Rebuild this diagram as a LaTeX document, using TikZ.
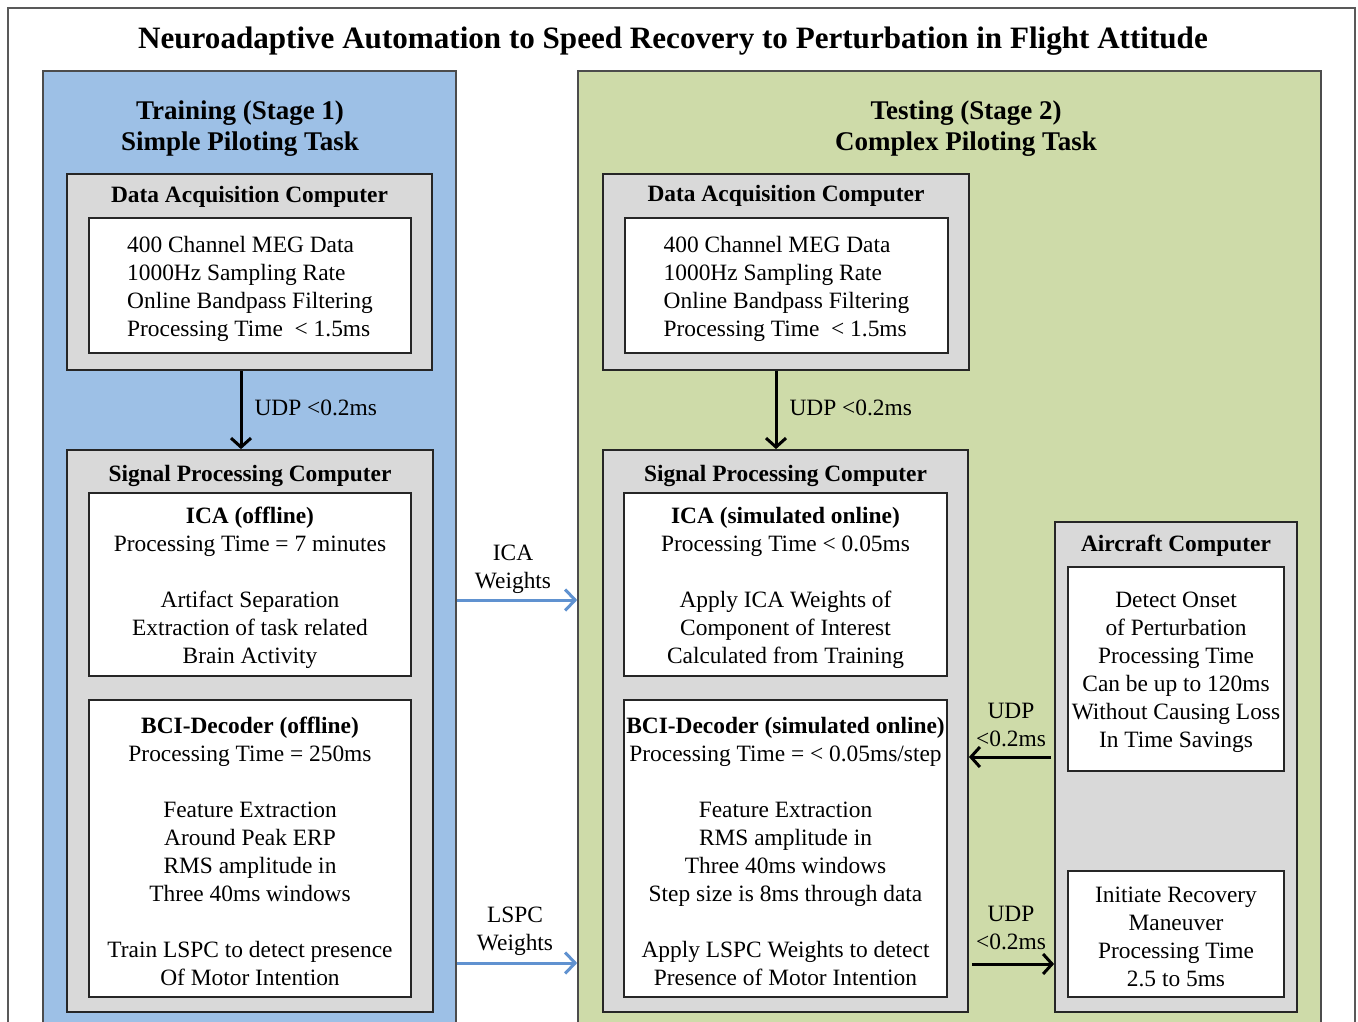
\documentclass[tikz,border=0pt]{standalone}
\usepackage{fontspec}
\setmainfont{Liberation Serif}
\definecolor{trainblue}{RGB}{157,192,230}
\definecolor{testgreen}{RGB}{206,219,169}
\definecolor{boxgray}{RGB}{217,217,217}
\definecolor{wtblue}{RGB}{96,146,208}
\usetikzlibrary{arrows.meta, positioning, calc, fit}

\begin{document}
\begin{tikzpicture}[x=1pt, y=-1pt,
  panel/.style={draw=black!70, line width=1.6pt, inner sep=0pt},
  comp/.style={draw=black!85, fill=boxgray, line width=1.8pt, inner sep=0pt},
  inbox/.style={draw=black!85, fill=white, line width=1.8pt, inner sep=0pt},
  body/.style={font=\fontsize{23.4}{28}\selectfont, align=center, inner sep=0pt, yshift=-3pt},
  hdr/.style={font=\fontsize{23.4}{28}\selectfont\bfseries, inner sep=0pt, yshift=-3pt},
  stage/.style={font=\fontsize{27}{31}\selectfont\bfseries, align=center, inner sep=0pt, yshift=-3pt},
  udp/.style={line width=3pt, -{Straight Barb[length=9pt, width=20pt]}},
  wts/.style={wtblue, line width=3pt, -{Straight Barb[length=10pt, width=21pt]}}
]
  \useasboundingbox (0,0) rectangle (1358,1022);
  \clip (0,0) rectangle (1358,1022);
  \fill[white] (0,0) rectangle (1358,1022);
  \draw[black!65, line width=1.5pt] (8,8) rectangle (1355,1040);

  \node[font=\fontsize{31.1}{34}\selectfont\bfseries, inner sep=0pt] (title) at (673,41)
    {Neuroadaptive Automation to Speed Recovery to Perturbation in Flight Attitude};

  \node[panel, fill=trainblue, fit={(43,71) (456,1040)}] (training) {};
  \node[panel, fill=testgreen, fit={(578,71) (1321,1040)}] (testing) {};
  \node[stage] (trainT) at (240,125.5) {Training (Stage 1)\\Simple Piloting Task};
  \node[stage] (testT) at (966,125.5) {Testing (Stage 2)\\Complex Piloting Task};

  % stage 1
  \node[comp, fit={(67,174) (432,370)}] (dacL) {};
  \node[hdr] (dacLh) at ([yshift=-21pt]dacL.north) {Data Acquisition Computer};
  \node[inbox, fit={(89,218) (411,353)}] (megL) {};
  \node[body, align=left] (megLt) at (megL)
    {400 Channel MEG Data\\1000Hz Sampling Rate\\Online Bandpass Filtering\\Processing Time\ \ < 1.5ms};

  \node[comp, fit={(67,450) (433,1012)}] (spcL) {};
  \node[hdr] (spcLh) at ([yshift=-24pt]spcL.north) {Signal Processing Computer};
  \node[inbox, fit={(89,493) (411,676)}] (icaL) {};
  \node[body] (icaLt) at (icaL)
    {\textbf{ICA (offline)}\\Processing Time = 7 minutes\\[28pt]Artifact Separation\\Extraction of task related\\Brain Activity};
  \node[inbox, fit={(89,700) (411,997)}] (bciL) {};
  \node[body] (bciLt) at (bciL)
    {\textbf{BCI-Decoder (offline)}\\Processing Time = 250ms\\[28pt]Feature Extraction\\Around Peak ERP\\RMS amplitude in\\Three 40ms windows\\[28pt]Train LSPC to detect presence\\Of Motor Intention};

  \draw[udp] ([xshift=-8.5pt]dacL.south) -- ([xshift=-8.5pt]dacL.south |- spcL.north)
    node[midway, right=12pt, body, yshift=5.5pt] {UDP <0.2ms};

  % stage 2
  \node[comp, fit={(603,174) (969,370)}] (dacR) {};
  \node[hdr] (dacRh) at ([yshift=-20pt]dacR.north) {Data Acquisition Computer};
  \node[inbox, fit={(625,218) (948,353)}] (megR) {};
  \node[body, align=left] (megRt) at (megR)
    {400 Channel MEG Data\\1000Hz Sampling Rate\\Online Bandpass Filtering\\Processing Time\ \ < 1.5ms};

  \node[comp, fit={(603,450) (968,1012)}] (spcR) {};
  \node[hdr] (spcRh) at ([yshift=-24pt]spcR.north) {Signal Processing Computer};
  \node[inbox, fit={(624,493) (947,676)}] (icaR) {};
  \node[body] (icaRt) at (icaR)
    {\textbf{ICA (simulated online)}\\Processing Time < 0.05ms\\[28pt]Apply ICA Weights of\\Component of Interest\\Calculated from Training};
  \node[inbox, fit={(624,700) (947,997)}] (bciR) {};
  \node[body] (bciRt) at (bciR)
    {\textbf{BCI-Decoder (simulated online)}\\Processing Time = < 0.05ms/step\\[28pt]Feature Extraction\\RMS amplitude in\\Three 40ms windows\\Step size is 8ms through data\\[28pt]Apply LSPC Weights to detect\\Presence of Motor Intention};

  \draw[udp] ([xshift=-10pt]dacR.south) -- ([xshift=-10pt]dacR.south |- spcR.north)
    node[midway, right=12pt, body, yshift=5.5pt] {UDP <0.2ms};

  \node[comp, fit={(1055,522) (1297,1012)}] (acc) {};
  \node[hdr] (acch) at ([yshift=-22pt]acc.north) {Aircraft Computer};
  \node[inbox, fit={(1068,567) (1284,771)}] (detect) {};
  \node[body] (detectt) at (detect)
    {Detect Onset\\of Perturbation\\Processing Time\\Can be up to 120ms\\Without Causing Loss\\In Time Savings};
  \node[inbox, fit={(1068,871) (1284,997)}] (recover) {};
  \node[body] (recovert) at (recover)
    {Initiate Recovery\\Maneuver\\Processing Time\\2.5 to 5ms};

  % links between the stages and to the aircraft
  \draw[wts] (training.east |- 0,600) -- (testing.west |- 0,600);
  \node[body] (icaW) at (513,566) {ICA\\Weights};
  \draw[wts] (training.east |- 0,963) -- (testing.west |- 0,963);
  \node[body] (lspcW) at (515,928) {LSPC\\Weights};

  \draw[udp] ([xshift=-3pt]acc.west |- 0,757) -- (spcR.east |- 0,757);
  \node[body] (udpIn) at (1011,722) {UDP\\<0.2ms};
  \draw[udp] ([xshift=3pt]spcR.east |- 0,964) -- (acc.west |- 0,964);
  \node[body] (udpOut) at (1011,925) {UDP\\<0.2ms};
\end{tikzpicture}
\end{document}
